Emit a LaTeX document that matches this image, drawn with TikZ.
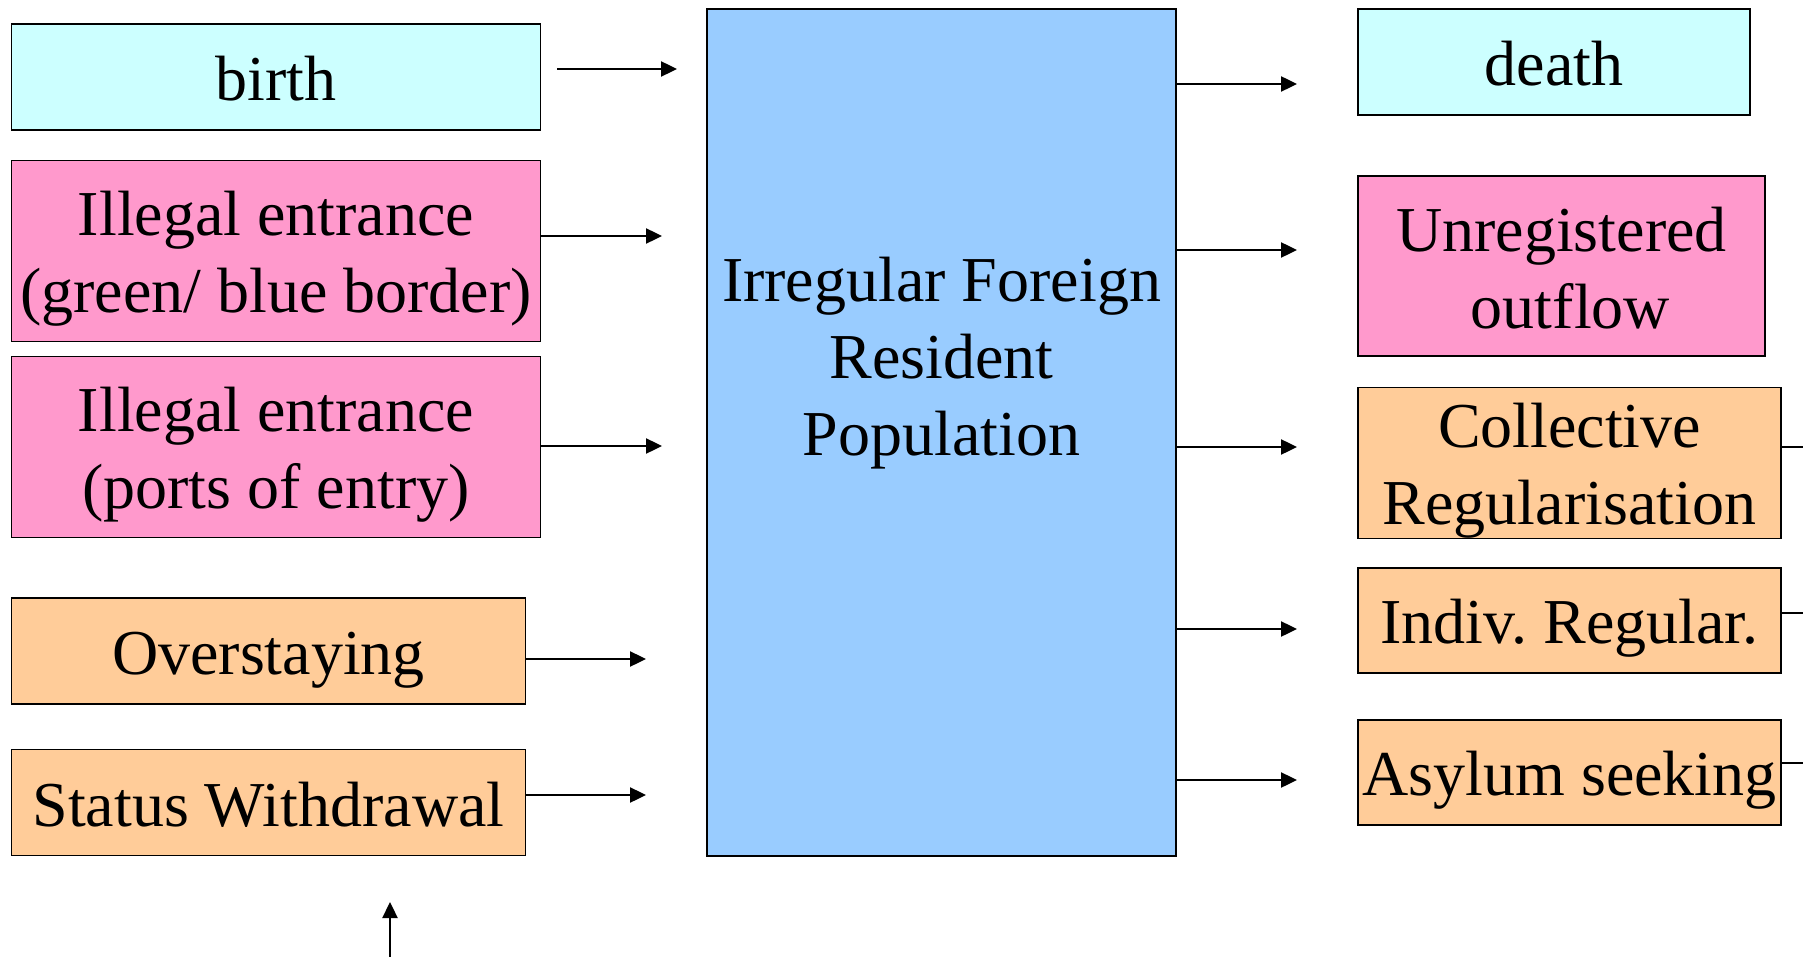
\documentclass[tikz,border=0pt]{standalone}
\usepackage{fontspec}
\setmainfont{Liberation Serif}
\frenchspacing
\usetikzlibrary{arrows.meta}
\definecolor{cyanbox}{HTML}{CCFFFF}
\definecolor{pinkbox}{HTML}{FF99CC}
\definecolor{orangebox}{HTML}{FFCC99}
\definecolor{bluebox}{HTML}{99CCFF}
\newcommand{\ls}{\rule[-12pt]{0pt}{72pt}}
\tikzset{
  box/.style={draw=black, line width=1.6pt, rectangle, inner sep=0pt, align=center,
    font=\fontsize{64}{77}\selectfont},
  arr/.style={line width=2.4pt, -{Triangle[length=16pt,width=15pt]}},
  plain/.style={line width=2.4pt}
}
\begin{document}
\begin{tikzpicture}[x=1pt,y=-1pt]
\useasboundingbox (0,0) rectangle (1803,957);
% left boxes
\node[box, fill=cyanbox, minimum width=529pt, minimum height=106pt] (birth) at (276,77) {\ls birth};
\node[box, fill=pinkbox, minimum width=529pt, minimum height=181pt] (ill1) at (276,251) {\ls Illegal entrance\\\ls(green/ blue border)};
\node[box, fill=pinkbox, minimum width=529pt, minimum height=181pt] (ill2) at (276,447) {\ls Illegal entrance\\\ls(ports of entry)};
\node[box, fill=orangebox, minimum width=514pt, minimum height=106pt] (over) at (268.5,651) {\ls Overstaying};
\node[box, fill=orangebox, minimum width=514pt, minimum height=106pt] (status) at (268.5,802.5) {\ls Status Withdrawal};
% central box
\node[box, fill=bluebox, minimum width=469pt, minimum height=847pt] (pop) at (941.5,432.5) {};
\node[align=center, font=\fontsize{64}{77}\selectfont, inner sep=0pt] (poptext) at (941.5,363) {Irregular Foreign\\Resident\\Population};
% right boxes
\node[box, fill=cyanbox, minimum width=392pt, minimum height=106pt] (death) at (1554,62) {\ls death};
\node[box, fill=pinkbox, minimum width=407pt, minimum height=180pt] (unreg) at (1561.5,266) {\ls Unregistered\\\ls\hspace*{18pt}outflow};
\node[box, fill=orangebox, minimum width=423pt, minimum height=150pt] (coll) at (1569.5,463) {\ls Collective\\\ls Regularisation};
\node[box, fill=orangebox, minimum width=423pt, minimum height=105pt] (indiv) at (1569.5,620.5) {\ls Indiv. Regular.};
\node[box, fill=orangebox, minimum width=423pt, minimum height=105pt] (asyl) at (1569.5,772.5) {\ls Asylum seeking};
% inflow arrows
\coordinate (b1) at (557,69);   \coordinate (b2) at (677,69);
\coordinate (i1e) at (662,236);
\coordinate (i2e) at (662,446);
\coordinate (oe) at (646,659);
\coordinate (se) at (646,795);
\draw[arr] (b1) -- (b2);
\draw[arr] (ill1.east |- i1e) -- (i1e);
\draw[arr] (ill2.east |- i2e) -- (i2e);
\draw[arr] (over.east |- oe) -- (oe);
\draw[arr] (status.east |- se) -- (se);
% outflow arrows
\coordinate (o1) at (1297,84);
\coordinate (o2) at (1297,250);
\coordinate (o3) at (1297,447);
\coordinate (o4) at (1297,629);
\coordinate (o5) at (1297,780);
\draw[arr] (pop.east |- o1) -- (o1);
\draw[arr] (pop.east |- o2) -- (o2);
\draw[arr] (pop.east |- o3) -- (o3);
\draw[arr] (pop.east |- o4) -- (o4);
\draw[arr] (pop.east |- o5) -- (o5);
% lines leaving the right edge
\coordinate (r1) at (1803,447);
\coordinate (r2) at (1803,613);
\coordinate (r3) at (1803,763);
\draw[plain] (coll.east |- r1) -- (r1);
\draw[plain] (indiv.east |- r2) -- (r2);
\draw[plain] (asyl.east |- r3) -- (r3);
% bottom arrow
\coordinate (u1) at (390,957);
\coordinate (u2) at (390,902);
\draw[arr] (u1) -- (u2);
\end{tikzpicture}
\end{document}
